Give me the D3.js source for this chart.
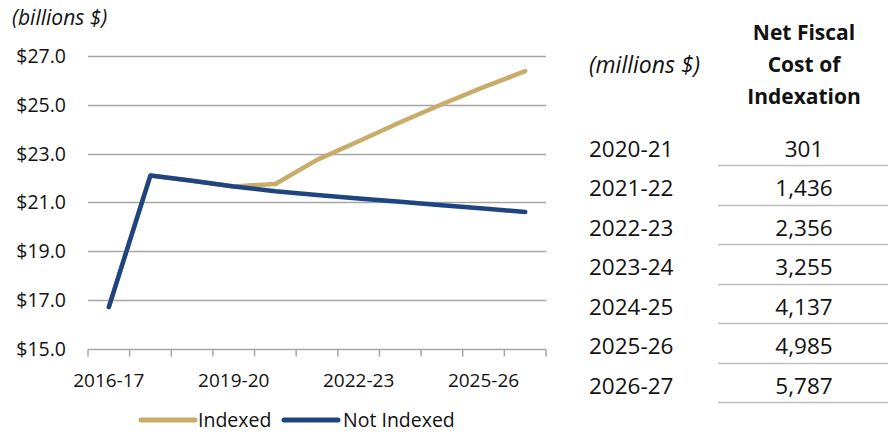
<!DOCTYPE html>
<html>
<head>
<meta charset="utf-8">
<script src="https://cdn.jsdelivr.net/npm/d3@7"></script>
<style>
  html, body { margin: 0; padding: 0; background: #fff; }
  svg { display: block; }
  text { font-family: "Open Sans", "Noto Sans", sans-serif; fill: #111; }
</style>
</head>
<body>
<svg id="chart" width="888" height="434"></svg>
<script>
// ---- data ----
const categories = ["2016-17","2017-18","2018-19","2019-20","2020-21","2021-22","2022-23","2023-24","2024-25","2025-26","2026-27"];
const indexed    = [16.7, 22.1, 21.88, 21.65, 21.75, 22.74, 23.5, 24.28, 25.02, 25.72, 26.38];
const notIndexed = [16.7, 22.1, 21.88, 21.65, 21.45, 21.3, 21.15, 21.02, 20.88, 20.74, 20.6];
const yTicks = [15, 17, 19, 21, 23, 25, 27];
const xLabels = ["2016-17","2019-20","2022-23","2025-26"];
const tableYears = ["2020-21","2021-22","2022-23","2023-24","2024-25","2025-26","2026-27"];
const tableCosts = ["301","1,436","2,356","3,255","4,137","4,985","5,787"];
const seriesNames = ["Indexed","Not Indexed"];
const seriesColors = ["#C8AC6A","#1F4482"];

const svg = d3.select("#chart");

const x = d3.scaleBand().domain(categories).range([88, 546]);
const y = d3.scaleLinear().domain([15, 27]).range([348.5, 56]);
const cx = c => x(c) + x.bandwidth() / 2;

// gridlines
svg.append("g").selectAll("line").data(yTicks.filter(v => v !== 15)).join("line")
  .attr("x1", 88).attr("x2", 546)
  .attr("y1", d => Math.round(y(d)) + 0.5).attr("y2", d => Math.round(y(d)) + 0.5)
  .attr("stroke", "#A6A6A6").attr("stroke-width", 1.5);

// x axis line + ticks
const axY = Math.round(y(15)) + 0.5;
svg.append("line").attr("x1", 88).attr("x2", 546).attr("y1", axY).attr("y2", axY)
  .attr("stroke", "#A6A6A6").attr("stroke-width", 1.5);
const tickPos = categories.map(c => x(c)).concat([x.range()[1]]);
svg.append("g").selectAll("line").data(tickPos).join("line")
  .attr("x1", d => d).attr("x2", d => d).attr("y1", axY).attr("y2", axY + 7)
  .attr("stroke", "#A6A6A6").attr("stroke-width", 1.5);

// y labels
svg.append("g").selectAll("text").data(yTicks).join("text")
  .attr("x", 66).attr("y", d => y(d)).attr("dy", "0.36em")
  .attr("text-anchor", "end").attr("font-size", 19.5)
  .text(d => "$" + d.toFixed(1));

// x labels
svg.append("g").selectAll("text").data(xLabels).join("text")
  .attr("x", d => cx(d)).attr("y", 387)
  .attr("text-anchor", "middle").attr("font-size", 19)
  .text(d => d);

// unit label
svg.append("text").attr("x", 12).attr("y", 25).attr("font-size", 21)
  .attr("font-style", "italic").text("(billions $)");

// lines
const line = d3.line().x((d, i) => cx(categories[i])).y(d => y(d));
[indexed, notIndexed].forEach((s, k) => {
  svg.append("path").datum(s).attr("d", line)
    .attr("fill", "none").attr("stroke", seriesColors[k])
    .attr("stroke-width", 4.5).attr("stroke-linecap", "round").attr("stroke-linejoin", "round");
});

// legend
const legendX = [141, 284];
const legendTextX = [198, 343];
seriesNames.forEach((n, k) => {
  svg.append("line").attr("x1", legendX[k]).attr("x2", legendX[k] + 54)
    .attr("y1", 420).attr("y2", 420)
    .attr("stroke", seriesColors[k]).attr("stroke-width", 5).attr("stroke-linecap", "round");
  svg.append("text").attr("x", legendTextX[k]).attr("y", 427).attr("font-size", 19.5).text(n);
});

// table
svg.append("text").attr("x", 589).attr("y", 73).attr("font-size", 23)
  .attr("font-style", "italic").text("(millions $)");
["Net Fiscal","Cost of","Indexation"].forEach((t, i) => {
  svg.append("text").attr("x", 804).attr("y", 40 + i * 32)
    .attr("text-anchor", "middle").attr("font-size", 21).attr("font-weight", "bold").text(t);
});
const rowY = d3.scaleLinear().domain([0, 1]).range([156.5, 196]);
svg.append("g").selectAll("text").data(tableYears).join("text")
  .attr("x", 589).attr("y", (d, i) => rowY(i)).attr("font-size", 22.5).text(d => d);
svg.append("g").selectAll("text").data(tableCosts).join("text")
  .attr("x", 804).attr("y", (d, i) => rowY(i)).attr("text-anchor", "middle")
  .attr("font-size", 22.5).text(d => d);
svg.append("g").selectAll("line").data(tableCosts).join("line")
  .attr("x1", 718).attr("x2", 888)
  .attr("y1", (d, i) => Math.round(rowY(i) + 8.5) + 0.5).attr("y2", (d, i) => Math.round(rowY(i) + 8.5) + 0.5)
  .attr("stroke", "#BFBFBF").attr("stroke-width", 1.5);
</script>
</body>
</html>
